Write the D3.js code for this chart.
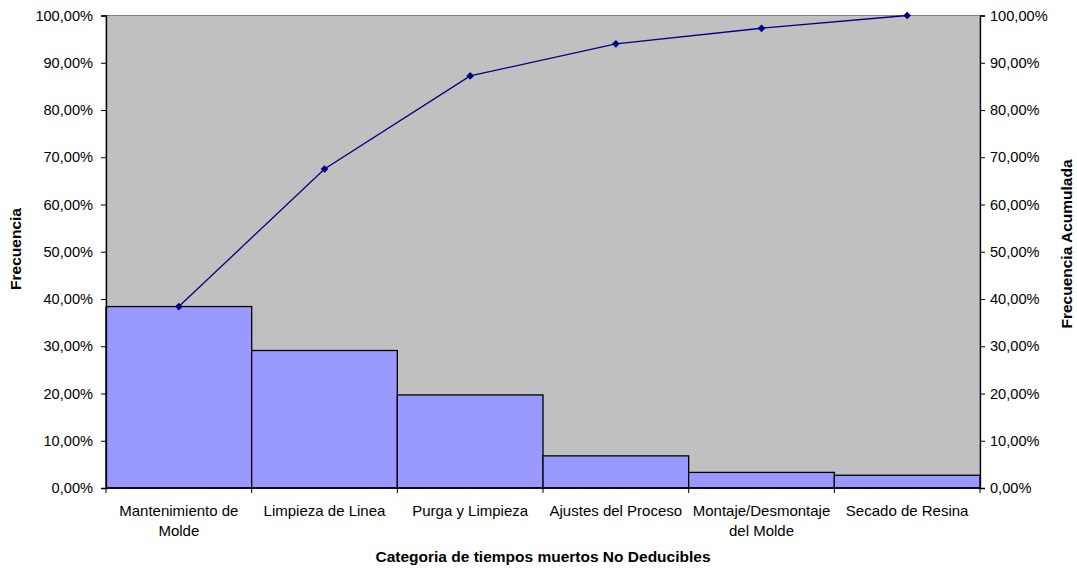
<!DOCTYPE html>
<html>
<head>
<meta charset="utf-8">
<script src="https://cdn.jsdelivr.net/npm/d3@7"></script>
<style>
  html, body { margin: 0; padding: 0; background: #fff; }
  svg { display: block; font-family: Arial, "Liberation Sans", sans-serif; }
</style>
</head>
<body>
<svg id="chart" width="1077" height="568"></svg>
<script>
// Pareto of non-deductible downtime categories
const categories = [
  ["Mantenimiento de", "Molde"],
  ["Limpieza de Linea"],
  ["Purga y Limpieza"],
  ["Ajustes del Proceso"],
  ["Montaje/Desmontaje", "del Molde"],
  ["Secado de Resina"]
];
const frequency = [38.4, 29.1, 19.7, 6.8, 3.3, 2.7];            // % per category
const cumulative = [38.4, 67.5, 87.2, 94.0, 97.3, 100.0];       // running %
const percentTicks = [0, 10, 20, 30, 40, 50, 60, 70, 80, 90, 100];

const svg = d3.select("#chart");
const plotLeft = 106, plotRight = 980, plotTop = 15.5, plotBottom = 488;
const tickFont = 14.6, catFont = 15, titleFont = 15.5;

const x = d3.scaleBand().domain(d3.range(categories.length)).range([plotLeft, plotRight]).padding(0);
const y = d3.scaleLinear().domain([0, 100]).range([plotBottom, plotTop]);

const fmt = v => v.toFixed(2).replace(".", ",") + "%";

// plot background
svg.append("rect")
  .attr("x", plotLeft).attr("y", plotTop)
  .attr("width", plotRight - plotLeft).attr("height", plotBottom - plotTop)
  .attr("fill", "#C0C0C0")
  .attr("stroke", "#808080").attr("stroke-width", 1);

// bars
svg.append("g").selectAll("rect").data(frequency).join("rect")
  .attr("x", (d, i) => x(i))
  .attr("y", d => y(d))
  .attr("width", x.bandwidth())
  .attr("height", d => plotBottom - y(d))
  .attr("fill", "#9999FF")
  .attr("stroke", "#000").attr("stroke-width", 1.3);

// left axis
const yLeft = svg.append("g").attr("transform", `translate(${plotLeft},0)`)
  .call(d3.axisLeft(y).tickValues(percentTicks).tickFormat(fmt).tickSize(5).tickPadding(8));
// right axis
const yRight = svg.append("g").attr("transform", `translate(${plotRight},0)`)
  .call(d3.axisRight(y).tickValues(percentTicks).tickFormat(fmt).tickSize(5).tickPadding(5));
[yLeft, yRight].forEach(g => {
  g.select(".domain").attr("stroke", "#000").attr("stroke-width", 1.3);
  g.selectAll(".tick line").attr("stroke", "#000");
  g.selectAll("text").attr("font-size", tickFont).attr("fill", "#000")
    .attr("font-family", "Arial, 'Liberation Sans', sans-serif");
});

// bottom axis with ticks at category boundaries
const boundaries = d3.range(categories.length + 1).map(i => plotLeft + i * x.bandwidth());
const xAxis = svg.append("g");
xAxis.append("line")
  .attr("x1", plotLeft).attr("x2", plotRight).attr("y1", plotBottom).attr("y2", plotBottom)
  .attr("stroke", "#000").attr("stroke-width", 1.5);
xAxis.selectAll("line.tk").data(boundaries).join("line").attr("class", "tk")
  .attr("x1", d => d).attr("x2", d => d)
  .attr("y1", plotBottom).attr("y2", plotBottom + 5)
  .attr("stroke", "#000");
xAxis.selectAll("text.cat").data(categories).join("text").attr("class", "cat")
  .attr("x", (d, i) => x(i) + x.bandwidth() / 2)
  .attr("y", 516)
  .attr("text-anchor", "middle")
  .attr("font-size", catFont)
  .selectAll("tspan").data(d => d).join("tspan")
  .attr("x", function () { return this.parentNode.getAttribute("x"); })
  .attr("dy", (d, i) => i === 0 ? 0 : 19.5)
  .text(d => d);

// cumulative line
const cx = i => x(i) + x.bandwidth() / 2;
svg.append("path")
  .datum(cumulative)
  .attr("fill", "none")
  .attr("stroke", "#000080").attr("stroke-width", 1.3)
  .attr("d", d3.line().x((d, i) => cx(i)).y(d => y(d)));
// diamond markers (square turned 45°)
svg.append("g").selectAll("path").data(cumulative).join("path")
  .attr("d", d3.symbol(d3.symbolSquare, 30))
  .attr("transform", (d, i) => `translate(${cx(i)},${y(d)}) rotate(45)`)
  .attr("fill", "#000080");

// axis titles
svg.append("text")
  .attr("transform", `translate(21,249) rotate(-90)`)
  .attr("text-anchor", "middle").attr("font-size", titleFont).attr("font-weight", "bold")
  .text("Frecuencia");
svg.append("text")
  .attr("transform", `translate(1072,244) rotate(-90)`)
  .attr("text-anchor", "middle").attr("font-size", titleFont).attr("font-weight", "bold")
  .text("Frecuencia Acumulada");
svg.append("text")
  .attr("x", (plotLeft + plotRight) / 2).attr("y", 562)
  .attr("text-anchor", "middle").attr("font-size", titleFont).attr("font-weight", "bold")
  .text("Categoria de tiempos muertos No Deducibles");
</script>
</body>
</html>
